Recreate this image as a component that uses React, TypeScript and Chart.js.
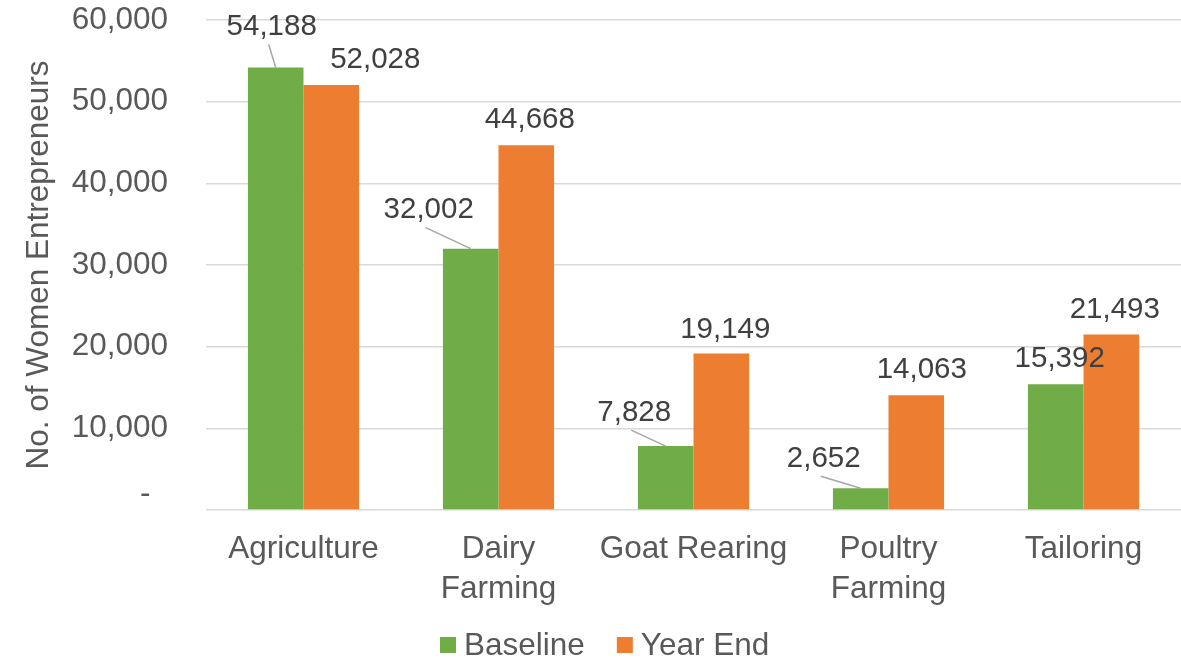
import React, { useEffect, useRef } from 'react';
import { Chart, registerables } from 'chart.js';

Chart.register(...registerables);

// ---- data ----
const categories: (string | string[])[] = [
  'Agriculture',
  ['Dairy', 'Farming'],
  'Goat Rearing',
  ['Poultry', 'Farming'],
  'Tailoring',
];
const baselineValues = [54188, 32002, 7828, 2652, 15392];
const yearEndValues = [52028, 44668, 19149, 14063, 21493];
const seriesNames = ['Baseline', 'Year End'];
const yAxisTitle = 'No. of Women Entrepreneurs';
const yMin = 0;
const yMax = 60000;
const yStep = 10000;

// ---- styling ----
const FONT = '"Liberation Sans", Arial, sans-serif';
const seriesColors = ['#70AD47', '#ED7D31'];
const axisTextColor = '#595959';
const labelTextColor = '#404040';
const gridColor = '#D9D9D9';
const leaderColor = '#A6A6A6';
const axisFontSize = 31.5;
const labelFontSize = 29.5;

// label placement: pixel shift from the bar's top-centre to the label's centre
const labelOffsets: number[][][] = [
  [[-4, -43], [-42, -41], [-31.5, -36], [-37, -32], [4, -27.5]],
  [[44, -27.5], [3.5, -27.5], [4, -26.5], [5.5, -27.5], [3.5, -27.5]],
];
// which labels are tied back to their bar with a leader line
const labelLeaders: boolean[][] = [
  [true, true, true, true, false],
  [false, false, false, false, false],
];

const fmt = (v: number) => v.toLocaleString('en-US');

const valueLabels = {
  id: 'valueLabels',
  afterDatasetsDraw(chart: any) {
    const ctx = chart.ctx;
    ctx.save();
    ctx.font = `${labelFontSize}px ${FONT}`;
    ctx.textAlign = 'center';
    ctx.textBaseline = 'alphabetic';
    chart.data.datasets.forEach((ds: any, i: number) => {
      const meta = chart.getDatasetMeta(i);
      meta.data.forEach((bar: any, j: number) => {
        const [dx, dy] = labelOffsets[i][j];
        const cx = bar.x + dx;
        const cy = bar.y + dy;
        if (labelLeaders[i][j]) {
          ctx.strokeStyle = leaderColor;
          ctx.lineWidth = 1.5;
          ctx.beginPath();
          ctx.moveTo(cx - 3, cy + 20);
          ctx.lineTo(bar.x, bar.y);
          ctx.stroke();
        }
        ctx.fillStyle = labelTextColor;
        ctx.fillText(fmt(ds.data[j]), cx, cy + 0.358 * labelFontSize);
      });
    });
    ctx.restore();
  },
};

// legend drawn below the axis: square swatch, then the series name
const legendStartX = 440;
const legendSwatch = 16;
const legendTextGap = 8;
const legendItemGap = 32;
const legendBaselineY = 655;

const bottomLegend = {
  id: 'bottomLegend',
  afterDraw(chart: any) {
    const ctx = chart.ctx;
    ctx.save();
    ctx.font = `${axisFontSize}px ${FONT}`;
    ctx.textAlign = 'left';
    ctx.textBaseline = 'alphabetic';
    let x = legendStartX;
    chart.data.datasets.forEach((ds: any) => {
      ctx.fillStyle = ds.backgroundColor;
      ctx.fillRect(x, legendBaselineY - 18, legendSwatch, legendSwatch);
      x += legendSwatch + legendTextGap;
      ctx.fillStyle = axisTextColor;
      ctx.fillText(ds.label, x, legendBaselineY);
      x += ctx.measureText(ds.label).width + legendItemGap;
    });
    ctx.restore();
  },
};

export default function App() {
  const canvasRef = useRef<HTMLCanvasElement | null>(null);

  useEffect(() => {
    if (!canvasRef.current) return;
    const chart = new Chart(canvasRef.current, {
      type: 'bar',
      data: {
        labels: categories,
        datasets: [
          { label: seriesNames[0], data: baselineValues, backgroundColor: seriesColors[0] },
          { label: seriesNames[1], data: yearEndValues, backgroundColor: seriesColors[1] },
        ],
      },
      options: {
        animation: false,
        responsive: true,
        maintainAspectRatio: false,
        layout: { padding: { top: 20, right: -7, bottom: 0, left: 0 } },
        datasets: {
          bar: { categoryPercentage: 0.57, barPercentage: 1.0 },
        },
        plugins: {
          legend: { display: false },
          tooltip: { enabled: false },
        },
        scales: {
          x: {
            grid: { display: false, drawTicks: false },
            border: { display: false },
            ticks: {
              color: axisTextColor,
              font: { family: FONT, size: axisFontSize, lineHeight: 1.27 },
              padding: 19,
              maxRotation: 0,
              autoSkip: false,
            },
            afterFit: (scale: any) => {
              scale.height = 148;
              scale.paddingLeft = 0;
              scale.paddingRight = 0;
            },
          },
          y: {
            min: yMin,
            max: yMax,
            grid: { color: gridColor, lineWidth: 1.5, drawTicks: false },
            border: { display: false },
            ticks: {
              stepSize: yStep,
              color: axisTextColor,
              font: { family: FONT, size: axisFontSize, lineHeight: 1.0 },
              padding: 38,
              // zero is shown as an accounting-style dash, sitting a little above its line
              callback: (v: any) => (Number(v) === 0 ? ['-  ', ''] : fmt(Number(v))),
            },
            title: {
              display: true,
              text: yAxisTitle,
              color: axisTextColor,
              font: { family: FONT, size: axisFontSize },
              padding: { top: 20, bottom: 0 },
            },
            afterFit: (scale: any) => {
              scale.width = 206;
              scale.paddingTop = 0;
              scale.paddingBottom = 0;
            },
          },
        },
      },
      plugins: [valueLabels, bottomLegend],
    });
    return () => chart.destroy();
  }, []);

  return (
    <div style={{ position: 'fixed', left: 0, top: 0, width: 1181, height: 658, background: '#fff' }}>
      <canvas ref={canvasRef} />
    </div>
  );
}
